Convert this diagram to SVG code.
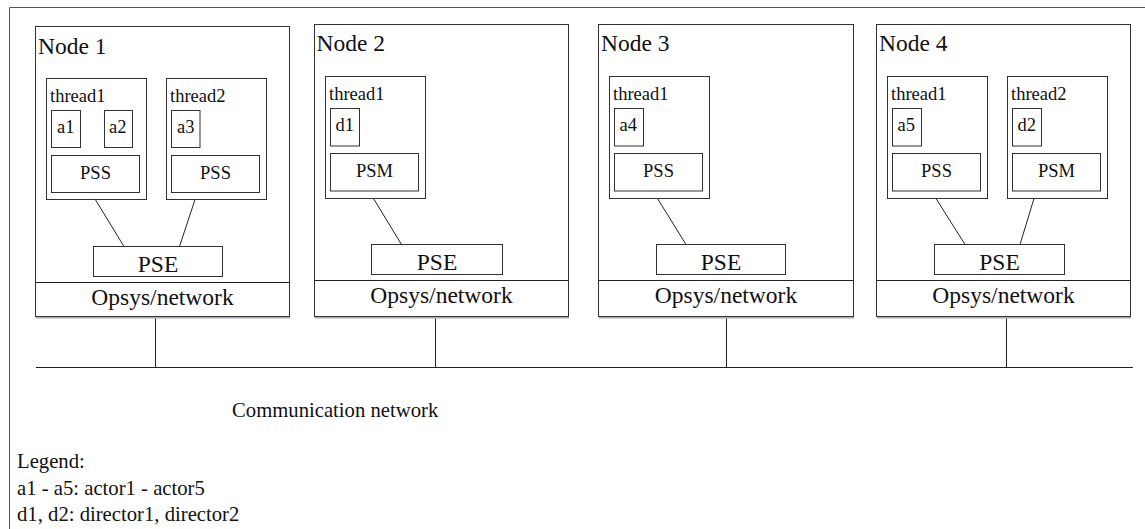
<svg xmlns="http://www.w3.org/2000/svg" width="1145" height="529" viewBox="0 0 1145 529">
  <style>
    text { font-family: 'Liberation Serif', Tinos, 'Noto Serif', 'DejaVu Serif', serif; fill: #111; }
    .frame { fill: none; stroke: #555; stroke-width: 1; }
    .box { fill: #fff; stroke: #333; stroke-width: 1; }
    .shade { fill: none; stroke: #999; stroke-width: 1.2; }
    .wire { fill: none; stroke: #222; stroke-width: 1; }
    .big { font-size: 23.5px; }
    .small { font-size: 18.5px; }
    .mid { text-anchor: middle; }
    .note { font-size: 20.7px; }
  </style>

  <rect x="0" y="0" width="1145" height="529" fill="#fff"/>

  <!-- outer frame -->
  <path class="frame" d="M9.5,529 V7.5 H1145"/>

  <!-- Node 1 -->
  <g id="node1">
    <rect class="box" x="35.5" y="26.5" width="254" height="290"/>
    <path class="shade" d="M36,317.8 H290"/>
    <text class="big" x="38" y="54">Node 1</text>
    <rect class="box" x="46.5" y="78.5" width="100" height="121"/>
    <text class="small" x="50" y="101.5">thread1</text>
    <rect class="box" x="51.5" y="110.5" width="29" height="37"/>
    <text class="small" x="57" y="133">a1</text>
    <rect class="box" x="104.5" y="110.5" width="28" height="37"/>
    <text class="small" x="109" y="133">a2</text>
    <rect class="box" x="51.5" y="155.5" width="88" height="37"/>
    <text class="small mid" x="95.5" y="178.5">PSS</text>
    <rect class="box" x="166.5" y="78.5" width="100" height="121"/>
    <text class="small" x="170" y="101.5">thread2</text>
    <rect class="box" x="171.5" y="110.5" width="28.5" height="37"/>
    <text class="small" x="177" y="133">a3</text>
    <rect class="box" x="171.5" y="155.5" width="88" height="37"/>
    <text class="small mid" x="215.5" y="178.5">PSS</text>
    <rect class="box" x="93.5" y="246.5" width="129" height="30"/>
    <text class="big mid" x="158" y="271.5">PSE</text>
    <path class="wire" d="M35.5,282.5 H289.5"/>
    <text class="big mid" x="162.5" y="305">Opsys/network</text>
  </g>

  <!-- Node 2 -->
  <g id="node2">
    <rect class="box" x="314.5" y="24.5" width="254" height="292"/>
    <path class="shade" d="M315,317.8 H569"/>
    <text class="big" x="316.5" y="51">Node 2</text>
    <rect class="box" x="325.5" y="76.5" width="100" height="122"/>
    <text class="small" x="329" y="99.5">thread1</text>
    <rect class="box" x="330.5" y="108.5" width="29" height="37.5"/>
    <text class="small" x="335.5" y="131">d1</text>
    <rect class="box" x="330.5" y="153.5" width="88" height="37.5"/>
    <text class="small mid" x="374.5" y="176.5">PSM</text>
    <rect class="box" x="371.5" y="244.5" width="131" height="30"/>
    <text class="big mid" x="437" y="269.5">PSE</text>
    <path class="wire" d="M314.5,280.5 H568.5"/>
    <text class="big mid" x="441.5" y="303">Opsys/network</text>
  </g>

  <!-- Node 3 -->
  <g id="node3">
    <rect class="box" x="598.5" y="24.5" width="255" height="292"/>
    <path class="shade" d="M599,317.8 H854"/>
    <text class="big" x="601" y="51">Node 3</text>
    <rect class="box" x="609.5" y="76.5" width="100" height="122"/>
    <text class="small" x="613" y="99.5">thread1</text>
    <rect class="box" x="614.5" y="108.5" width="29" height="37.5"/>
    <text class="small" x="619.5" y="131">a4</text>
    <rect class="box" x="614.5" y="153.5" width="88" height="37.5"/>
    <text class="small mid" x="658.5" y="176.5">PSS</text>
    <rect class="box" x="656.5" y="244.5" width="129" height="30"/>
    <text class="big mid" x="721" y="269.5">PSE</text>
    <path class="wire" d="M598.5,280.5 H853.5"/>
    <text class="big mid" x="726" y="303">Opsys/network</text>
  </g>

  <!-- Node 4 -->
  <g id="node4">
    <rect class="box" x="876.5" y="24.5" width="254" height="292"/>
    <path class="shade" d="M877,317.8 H1131"/>
    <text class="big" x="879" y="51">Node 4</text>
    <rect class="box" x="887.5" y="76.5" width="100" height="122"/>
    <text class="small" x="891" y="99.5">thread1</text>
    <rect class="box" x="892.5" y="108.5" width="29" height="37.5"/>
    <text class="small" x="897.5" y="131">a5</text>
    <rect class="box" x="892.5" y="153.5" width="88" height="37.5"/>
    <text class="small mid" x="936.5" y="176.5">PSS</text>
    <rect class="box" x="1007.5" y="76.5" width="100" height="122"/>
    <text class="small" x="1011" y="99.5">thread2</text>
    <rect class="box" x="1012.5" y="108.5" width="29" height="37.5"/>
    <text class="small" x="1017.5" y="131">d2</text>
    <rect class="box" x="1012.5" y="153.5" width="88" height="37.5"/>
    <text class="small mid" x="1056.5" y="176.5">PSM</text>
    <rect class="box" x="934.5" y="244.5" width="130" height="30"/>
    <text class="big mid" x="999.5" y="269.5">PSE</text>
    <path class="wire" d="M876.5,280.5 H1130.5"/>
    <text class="big mid" x="1003.5" y="303">Opsys/network</text>
  </g>

  <!-- connectors: thread-to-PSE links, drops to the bus and the bus itself -->
  <g id="connectors">
    <line class="wire" x1="95" y1="199" x2="124" y2="246.5"/>
    <line class="wire" x1="195" y1="199.5" x2="179.5" y2="246.5"/>
    <line class="wire" x1="373.5" y1="198.5" x2="401.5" y2="244.5"/>
    <line class="wire" x1="657.5" y1="198.5" x2="686" y2="244.5"/>
    <line class="wire" x1="936" y1="198.5" x2="965" y2="244.5"/>
    <line class="wire" x1="1034" y1="198.5" x2="1020" y2="244.5"/>
    <line class="wire" x1="155.5" y1="318.5" x2="155.5" y2="367.5"/>
    <line class="wire" x1="435.5" y1="318.5" x2="435.5" y2="367.5"/>
    <line class="wire" x1="726.5" y1="318.5" x2="726.5" y2="367.5"/>
    <line class="wire" x1="1006.5" y1="318.5" x2="1006.5" y2="367.5"/>
    <line class="wire" x1="36" y1="367.5" x2="1133" y2="367.5"/>
  </g>

  <!-- bus label and legend -->
  <g id="legend">
    <text class="note" x="232" y="416.5">Communication network</text>
    <text class="note" x="17" y="468">Legend:</text>
    <text class="note" x="17" y="495">a1 - a5: actor1 - actor5</text>
    <text class="note" x="17" y="521">d1, d2: director1, director2</text>
  </g>
</svg>
